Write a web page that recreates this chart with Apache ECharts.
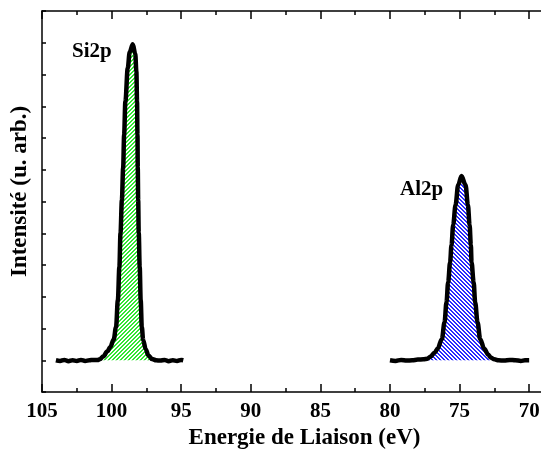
<!DOCTYPE html>
<html>
<head>
<meta charset="utf-8">
<script src="https://cdn.jsdelivr.net/npm/echarts@6/dist/echarts.min.js"></script>
<style>
html,body{margin:0;padding:0;background:#fff;}
#chart{width:541px;height:453px;}
</style>
</head>
<body>
<div id="chart"></div>
<script>
// ---- data ----
const siEnergy = [104.0,103.7,103.4,103.1,102.8,102.5,102.2,101.9,101.6,101.3,101.0,100.85,100.6,100.3,100.09,99.85,99.68,99.55,99.44,99.36,99.26,99.17,99.10,99.01,98.84,98.70,98.48,98.30,98.22,98.17,98.14,98.12,98.09,98.05,97.98,97.91,97.83,97.73,97.55,97.35,97.1,96.8,96.5,96.2,95.9,95.6,95.3,95.0,94.85];
const siIntensity = [1.00,0.98,1.01,0.97,1.00,0.98,1.01,0.98,1.00,1.01,1.01,1.03,1.12,1.28,1.42,1.65,2.05,2.89,3.94,5.01,6.05,7.06,8.10,9.15,10.20,10.70,10.95,10.65,10.10,9.15,8.10,7.06,6.05,5.01,3.94,2.89,2.05,1.63,1.35,1.15,1.04,1.00,0.99,1.01,0.97,1.00,0.98,1.01,1.00];
const alEnergy = [80.0,79.6,79.2,78.8,78.4,78.0,77.6,77.3,77.07,76.8,76.58,76.27,76.08,75.94,75.82,75.68,75.58,75.46,75.29,75.10,74.86,74.57,74.40,74.28,74.19,74.14,73.99,73.88,73.71,73.52,73.23,72.95,72.75,72.5,72.2,71.8,71.4,71.0,70.6,70.3,70.0];
const alIntensity = [1.00,0.98,1.01,0.99,1.00,1.02,1.03,1.05,1.12,1.24,1.36,1.67,2.20,2.83,3.46,4.09,4.63,5.26,5.89,6.52,6.80,6.52,5.89,5.26,4.63,4.09,3.46,2.83,2.20,1.67,1.36,1.18,1.08,1.03,1.00,0.99,1.01,1.00,0.98,1.00,1.00];
const majorTicks = [70,75,80,85,90,95,100,105];
const minorTicks = [72.5,77.5,82.5,87.5,92.5,97.5,102.5];
const peakLabels = ['Si2p','Al2p'];
const xTitle = 'Energie de Liaison (eV)';
const yTitle = 'Intensité (u. arb.)';

// ---- hatch patterns ----
function hatch(color, forward){
  const s = 4;
  const c = document.createElement('canvas');
  c.width = s; c.height = s;
  const g = c.getContext('2d');
  g.fillStyle = '#ffffff'; g.fillRect(0,0,s,s);
  g.fillStyle = color;
  for (let r = 0; r < s; r++){
    const x = forward ? (s-1-r) : r;
    g.fillRect(x, r, 1, 1);
    g.fillRect((x+1)%s, r, 1, 1);
  }
  return c;
}
const greenHatch = hatch('#33e633', true);
const blueHatch = hatch('#2a2aff', false);

const FONT = '"Liberation Serif", "Times New Roman", serif';
const XMIN = 69.15, XMAX = 105;

function xa(pos, ticks, len, showLine, showLabel){
  return {
    type:'value', position:pos, min:XMIN, max:XMAX, inverse:true,
    axisLine:{show:showLine, onZero:false, lineStyle:{color:'#000', width:1.5}},
    axisTick:{show:true, inside:true, length:len, customValues:ticks, lineStyle:{color:'#000', width:1.5}},
    axisLabel:{show:showLabel, customValues:ticks, margin:9, color:'#000', fontFamily:FONT, fontWeight:'bold', fontSize:21, hideOverlap:false},
    splitLine:{show:false}
  };
}

const xAxes = [
  xa('bottom', majorTicks, 8, true, true),
  xa('bottom', minorTicks, 4, false, false),
  xa('top', majorTicks, 8, true, false),
  xa('top', minorTicks, 4, false, false)
];
xAxes[0].name = xTitle;
xAxes[0].nameLocation = 'middle';
xAxes[0].nameGap = 32;
xAxes[0].nameTextStyle = {color:'#000', fontFamily:FONT, fontWeight:'bold', fontSize:23, padding:[0,0,0,26]};

const chart = echarts.init(document.getElementById('chart'), null, {renderer:'canvas'});
chart.setOption({
  animation:false,
  backgroundColor:'#fff',
  grid:{left:42, right:0, top:11, bottom:61, containLabel:false, outerBoundsMode:'none'},
  xAxis: xAxes,
  yAxis: {
    type:'value', min:0, max:12, interval:1,
    name: yTitle, nameLocation:'middle', nameGap:10, nameRotate:90,
    nameTextStyle:{color:'#000', fontFamily:FONT, fontWeight:'bold', fontSize:23, padding:[0,0,0,20], verticalAlign:'bottom'},
    axisLine:{show:true, lineStyle:{color:'#000', width:1.5}},
    axisTick:{show:true, inside:true, length:4, lineStyle:{color:'#000', width:1.5}},
    axisLabel:{show:false},
    splitLine:{show:false}
  },
  series:[
    {
      type:'line', xAxisIndex:0, symbol:'none', smooth:0.35, smoothMonotone:'x',
      data: siEnergy.map((e,i)=>[e, siIntensity[i]]),
      lineStyle:{color:'#000', width:4.5},
      areaStyle:{origin:1, color:{image:greenHatch, repeat:'repeat'}, opacity:1},
      z:3
    },
    {
      type:'line', xAxisIndex:0, symbol:'none', smooth:0.35, smoothMonotone:'x',
      data: alEnergy.map((e,i)=>[e, alIntensity[i]]),
      lineStyle:{color:'#000', width:4.5},
      areaStyle:{origin:1, color:{image:blueHatch, repeat:'repeat'}, opacity:1},
      z:3
    }
  ],
  graphic:[
    {type:'text', left:72, top:41, style:{text:peakLabels[0], fill:'#000', font:'bold 21px ' + FONT}},
    {type:'text', left:400, top:179, style:{text:peakLabels[1], fill:'#000', font:'bold 21px ' + FONT}}
  ]
});
</script>
</body>
</html>
